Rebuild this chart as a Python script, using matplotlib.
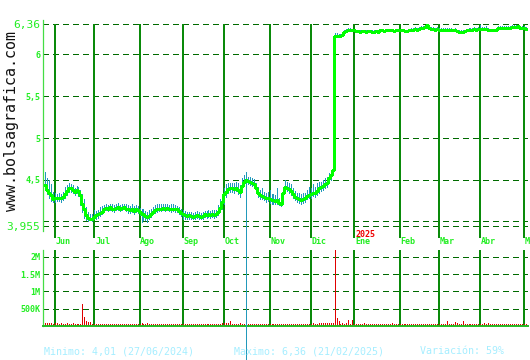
import matplotlib
matplotlib.use("Agg")
import matplotlib.pyplot as plt
import numpy as np
import pandas as pd

plt.rcParams['lines.scale_dashes'] = False

# ---------------- data ----------------
dates = pd.bdate_range('2024-05-27', '2025-05-02')

close = [
    4.44, 4.38, 4.35, 4.32, 4.27, 4.28, 4.28, 4.29, 4.28, 4.30,
    4.33, 4.37, 4.41, 4.40, 4.38, 4.36, 4.38, 4.37, 4.32, 4.22,
    4.15, 4.08, 4.05, 4.04, 4.03, 4.06, 4.08, 4.09, 4.11, 4.12,
    4.16, 4.17, 4.16, 4.18, 4.16, 4.15, 4.17, 4.18, 4.16, 4.17,
    4.18, 4.16, 4.15, 4.14, 4.15, 4.13, 4.15, 4.14, 4.12, 4.10,
    4.09, 4.07, 4.06, 4.07, 4.10, 4.12, 4.14, 4.15, 4.16, 4.16,
    4.17, 4.16, 4.17, 4.16, 4.15, 4.16, 4.15, 4.15, 4.13, 4.11,
    4.09, 4.08, 4.07, 4.08, 4.07, 4.06, 4.07, 4.08, 4.07, 4.06,
    4.07, 4.09, 4.08, 4.09, 4.08, 4.09, 4.08, 4.09, 4.12, 4.17,
    4.24, 4.33, 4.36, 4.39, 4.40, 4.40, 4.39, 4.41, 4.38, 4.36,
    4.43, 4.48, 4.50, 4.49, 4.48, 4.47, 4.45, 4.40, 4.35, 4.32,
    4.31, 4.30, 4.29, 4.29, 4.27, 4.26, 4.26, 4.25, 4.26, 4.23,
    4.22, 4.34, 4.42, 4.41, 4.39, 4.37, 4.33, 4.30, 4.28, 4.27,
    4.26, 4.27, 4.28, 4.31, 4.32, 4.33, 4.35, 4.34, 4.37, 4.40,
    4.42, 4.43, 4.45, 4.47, 4.52, 4.56, 4.62, 6.22, 6.22, 6.22,
    6.21, 6.23, 6.26, 6.27, 6.29, 6.29, 6.29, 6.28, 6.27, 6.27,
    6.26, 6.27, 6.27, 6.26, 6.27, 6.27, 6.26, 6.26, 6.27, 6.26,
    6.28, 6.28, 6.27, 6.28, 6.28, 6.28, 6.28, 6.27, 6.28, 6.28,
    6.28, 6.28, 6.28, 6.27, 6.27, 6.28, 6.29, 6.29, 6.30, 6.29,
    6.30, 6.31, 6.31, 6.32, 6.34, 6.31, 6.30, 6.30, 6.29, 6.30,
    6.29, 6.29, 6.29, 6.29, 6.29, 6.29, 6.29, 6.28, 6.29, 6.27,
    6.26, 6.26, 6.26, 6.27, 6.28, 6.29, 6.29, 6.29, 6.30, 6.29,
    6.30, 6.30, 6.30, 6.30, 6.30, 6.29, 6.28, 6.28, 6.28, 6.29,
    6.31, 6.31, 6.31, 6.31, 6.31, 6.31, 6.31, 6.32, 6.32, 6.32,
    6.33, 6.31, 6.31, 6.31, 6.30,
]

high = [
    4.60, 4.52, 4.50, 4.45, 4.36, 4.34, 4.33, 4.34, 4.33, 4.36,
    4.42, 4.44, 4.46, 4.45, 4.44, 4.41, 4.43, 4.42, 4.38, 4.33,
    4.27, 4.18, 4.12, 4.10, 4.09, 4.14, 4.13, 4.14, 4.18, 4.19,
    4.20, 4.21, 4.20, 4.22, 4.21, 4.20, 4.21, 4.23, 4.20, 4.22,
    4.22, 4.21, 4.20, 4.19, 4.21, 4.19, 4.20, 4.19, 4.17, 4.16,
    4.15, 4.13, 4.12, 4.14, 4.16, 4.18, 4.20, 4.21, 4.21, 4.21,
    4.22, 4.21, 4.22, 4.20, 4.21, 4.21, 4.20, 4.19, 4.18, 4.16,
    4.14, 4.13, 4.12, 4.12, 4.12, 4.11, 4.12, 4.13, 4.12, 4.11,
    4.12, 4.13, 4.13, 4.14, 4.13, 4.14, 4.14, 4.14, 4.20, 4.27,
    4.33, 4.40, 4.45, 4.46, 4.47, 4.47, 4.46, 4.48, 4.46, 4.44,
    4.52, 4.56, 4.60, 4.54, 4.53, 4.52, 4.51, 4.47, 4.42, 4.38,
    4.40, 4.36, 4.35, 4.36, 4.38, 4.33, 4.33, 4.32, 4.40, 4.29,
    4.29, 4.42, 4.50, 4.48, 4.47, 4.45, 4.40, 4.37, 4.35, 4.34,
    4.33, 4.34, 4.35, 4.38, 4.42, 4.40, 4.45, 4.42, 4.46, 4.48,
    4.48, 4.50, 4.52, 4.54, 4.58, 4.62, 4.65, 6.25, 6.25, 6.24,
    6.24, 6.26, 6.29, 6.30, 6.31, 6.31, 6.30, 6.30, 6.29, 6.29,
    6.28, 6.29, 6.29, 6.28, 6.29, 6.29, 6.28, 6.28, 6.29, 6.28,
    6.30, 6.30, 6.29, 6.30, 6.30, 6.30, 6.30, 6.29, 6.30, 6.30,
    6.30, 6.30, 6.29, 6.29, 6.29, 6.30, 6.31, 6.31, 6.32, 6.31,
    6.32, 6.33, 6.33, 6.34, 6.36, 6.34, 6.32, 6.32, 6.31, 6.32,
    6.31, 6.31, 6.31, 6.31, 6.31, 6.31, 6.31, 6.30, 6.31, 6.29,
    6.28, 6.28, 6.28, 6.29, 6.30, 6.31, 6.31, 6.31, 6.32, 6.31,
    6.32, 6.35, 6.32, 6.32, 6.33, 6.31, 6.30, 6.30, 6.30, 6.31,
    6.33, 6.33, 6.33, 6.33, 6.33, 6.33, 6.33, 6.34, 6.34, 6.34,
    6.35, 6.33, 6.33, 6.33, 6.32,
]

low = [
    4.40, 4.33, 4.28, 4.25, 4.24, 4.24, 4.25, 4.25, 4.24, 4.26,
    4.29, 4.32, 4.36, 4.36, 4.34, 4.32, 4.34, 4.31, 4.20, 4.12,
    4.05, 4.02, 4.01, 4.02, 4.01, 4.03, 4.04, 4.05, 4.07, 4.09,
    4.12, 4.14, 4.13, 4.14, 4.13, 4.12, 4.14, 4.14, 4.13, 4.14,
    4.15, 4.13, 4.11, 4.11, 4.12, 4.10, 4.12, 4.11, 4.08, 4.00,
    4.02, 4.02, 4.00, 4.03, 4.06, 4.09, 4.11, 4.12, 4.13, 4.13,
    4.14, 4.13, 4.14, 4.13, 4.12, 4.13, 4.12, 4.12, 4.09, 4.07,
    4.04, 4.03, 4.03, 4.04, 4.03, 4.03, 4.04, 4.05, 4.04, 4.03,
    4.04, 4.06, 4.05, 4.06, 4.05, 4.06, 4.05, 4.06, 4.08, 4.12,
    4.16, 4.22, 4.30, 4.34, 4.36, 4.36, 4.34, 4.37, 4.33, 4.30,
    4.38, 4.44, 0.00, 4.45, 4.44, 4.43, 4.40, 4.34, 4.30, 4.27,
    4.27, 4.26, 4.24, 4.25, 4.23, 4.22, 4.22, 4.21, 4.22, 4.20,
    4.19, 4.24, 4.37, 4.37, 4.34, 4.32, 4.28, 4.26, 4.24, 4.23,
    4.22, 4.23, 4.24, 4.27, 4.28, 4.29, 4.31, 4.30, 4.32, 4.35,
    4.37, 4.38, 4.40, 4.42, 4.47, 4.50, 4.56, 6.20, 6.20, 6.20,
    6.21, 6.23, 6.26, 6.27, 6.29, 6.29, 6.29, 6.28, 6.27, 6.27,
    6.26, 6.27, 6.27, 6.26, 6.27, 6.27, 6.26, 6.26, 6.27, 6.26,
    6.28, 6.28, 6.27, 6.28, 6.28, 6.28, 6.28, 6.27, 6.28, 6.28,
    6.28, 6.28, 6.28, 6.27, 6.27, 6.28, 6.29, 6.29, 6.30, 6.29,
    6.30, 6.31, 6.31, 6.32, 6.34, 6.31, 6.30, 6.30, 6.29, 6.30,
    6.29, 6.29, 6.29, 6.29, 6.29, 6.29, 6.29, 6.28, 6.29, 6.27,
    6.26, 6.26, 6.26, 6.27, 6.28, 6.29, 6.29, 6.29, 6.30, 6.29,
    6.30, 6.30, 6.30, 6.30, 6.30, 6.29, 6.28, 6.28, 6.28, 6.29,
    6.31, 6.31, 6.31, 6.31, 6.31, 6.31, 6.31, 6.32, 6.32, 6.32,
    6.33, 6.31, 6.31, 6.31, 6.30,
]

volume_k = [
    90, 90, 80, 90, 60, 100, 80, 50, 90, 70,
    50, 80, 70, 60, 80, 50, 70, 60, 50, 640,
    260, 150, 120, 120, 60, 50, 70, 70, 70, 50,
    60, 50, 60, 70, 50, 50, 60, 50, 50, 60,
    50, 60, 50, 50, 50, 50, 50, 50, 60, 80,
    70, 60, 80, 60, 50, 60, 60, 50, 70, 70,
    70, 50, 60, 50, 60, 50, 70, 60, 50, 70,
    50, 60, 50, 60, 50, 50, 60, 50, 60, 50,
    50, 60, 50, 70, 50, 60, 50, 70, 60, 70,
    90, 80, 100, 80, 150, 70, 70, 70, 70, 90,
    60, 70, 50, 60, 50, 70, 50, 70, 50, 50,
    60, 50, 50, 70, 50, 60, 60, 50, 50, 60,
    70, 50, 60, 60, 50, 50, 60, 50, 50, 60,
    70, 50, 60, 50, 60, 50, 80, 50, 60, 80,
    80, 80, 80, 80, 100, 100, 100, 2300, 230, 140,
    70, 90, 60, 80, 180, 60, 180, 70, 60, 60,
    70, 60, 80, 60, 50, 60, 70, 60, 50, 70,
    50, 60, 50, 70, 60, 50, 80, 60, 50, 60,
    50, 60, 50, 70, 50, 60, 50, 60, 70, 50,
    50, 70, 50, 60, 50, 50, 50, 70, 50, 50,
    60, 50, 50, 60, 145, 50, 60, 50, 115, 80,
    60, 50, 145, 60, 50, 50, 60, 50, 50, 60,
    50, 60, 50, 80, 60, 85, 60, 50, 60, 50,
    60, 50, 50, 60, 50, 50, 60, 50, 50, 50,
    60, 50, 50, 60, 50,
]

month_labels = ['Jun', 'Jul', 'Ago', 'Sep', 'Oct', 'Nov', 'Dic', 'Ene', 'Feb', 'Mar', 'Abr', 'May']
price_ticks = [6.36, 6.0, 5.5, 5.0, 4.5, 3.955]
price_tick_labels = ['6,36', '6', '5,5', '5', '4,5', '3,955']
price_lines = [6.36, 6.0, 5.5, 5.0, 4.5, 4.01, 3.955]
vol_ticks = [500e3, 1e6, 1.5e6, 2e6]
vol_tick_labels = ['500K', '1M', '1.5M', '2M']
year_label = '2025'
min_text = 'Minimo: 4,01 (27/06/2024)'
max_text = 'Maximo: 6,36 (21/02/2025)'
var_text = 'Variación: 59%'
watermark = 'www.bolsagrafica.com'

# ---------------- layout ----------------
W, H = 530, 360
fig = plt.figure(figsize=(W / 100, H / 100), dpi=100)
fig.patch.set_facecolor('white')


def rect(l, t, r, b):
    return [l / W, 1 - b / H, (r - l) / W, (b - t) / H]


MONO = 'DejaVu Sans Mono'
BRIGHT = '#22ee22'
GRID = '#006a00'
MONTHC = '#0a8a0a'
DASH = (0, (4.3, 2.9))

idx = np.arange(len(close))
month_period = dates.to_period('M')
month_pos = [i for i in range(1, len(dates)) if month_period[i] != month_period[i - 1]]

xlim = (-1.015, 245.2)

# price axes
axp = fig.add_axes(rect(43, 20, 528, 238))
axp.set_zorder(2)
axp.patch.set_visible(False)
axp.set_xlim(*xlim)
axp.set_ylim(3.8095, 6.4048)

for v in price_lines:
    axp.axhline(v, color=GRID, lw=1.0, linestyle=DASH, zorder=1, antialiased=False)
axp.vlines(month_pos, 3.8095, 6.36, color=MONTHC, lw=1.1, zorder=1, antialiased=False)

axp.vlines(idx, low, high, color='#2299bb', lw=0.7, clip_on=False, zorder=2,
           antialiased=False)
axp.plot(idx, close, drawstyle='steps-mid', color='#00ff00', lw=0.75, zorder=3,
         antialiased=False)

for s in ['top', 'right', 'bottom']:
    axp.spines[s].set_visible(False)
axp.spines['left'].set_color('#44dd44')
axp.spines['left'].set_linewidth(0.9)
axp.spines['left'].set_bounds(3.893, 6.4048)
axp.set_xticks([])
axp.set_yticks(price_ticks)
axp.set_yticklabels(price_tick_labels, family=MONO, color=BRIGHT)
axp.tick_params(axis='y', length=0, pad=2)
for lab in axp.get_yticklabels():
    if lab.get_text() in ('6,36', '3,955'):
        lab.set_fontsize(8)
    else:
        lab.set_fontsize(6)
        lab.set_fontweight('bold')

# month labels
for pos, name in zip(month_pos, month_labels):
    axp.text(pos + 0.4, 3.762, name, family=MONO, fontsize=6, fontweight='bold',
             color=BRIGHT, ha='left', va='center', clip_on=False)
ene_pos = month_pos[month_labels.index('Ene')]
axp.text(ene_pos + 0.4, 3.853, year_label, family=MONO, fontsize=6, fontweight='bold',
         color='#ee0000', ha='left', va='center', clip_on=False)

# volume axes
axv = fig.add_axes(rect(43, 250, 528, 326))
axv.set_zorder(1)
axv.patch.set_visible(False)
axv.set_xlim(*xlim)
axv.set_ylim(0, 2.2e6)
for v in vol_ticks:
    axv.axhline(v, color=GRID, lw=1.0, linestyle=DASH, zorder=1, antialiased=False)
for p in month_pos:
    axv.axvline(p, color=MONTHC, lw=1.1, zorder=1, antialiased=False)
axv.vlines(idx, 0, np.array(volume_k) * 1000.0, color='#e00000', lw=0.7, zorder=2,
           antialiased=False)
for s in ['top', 'right']:
    axv.spines[s].set_visible(False)
axv.spines['left'].set_color('#44dd44')
axv.spines['left'].set_linewidth(0.9)
axv.spines['bottom'].set_color('#22bb22')
axv.spines['bottom'].set_linewidth(1.4)
axv.set_xticks([])
axv.set_yticks(vol_ticks)
axv.set_yticklabels(vol_tick_labels, family=MONO, color=BRIGHT, fontsize=6, fontweight='bold')
axv.tick_params(axis='y', length=0, pad=2)

# bottom texts
TXT = '#a6eeff'
fig.text(44 / W, 1 - 351 / H, min_text, family=MONO, fontsize=7.2, color=TXT, ha='left', va='center')
fig.text(234 / W, 1 - 351 / H, max_text, family=MONO, fontsize=7.2, color=TXT, ha='left', va='center')
fig.text(420 / W, 1 - 351 / H, var_text, family=MONO, fontsize=7.2, color=TXT, ha='left', va='center')

# watermark
fig.text(12 / W, 1 - 121 / H, watermark, family=MONO, fontsize=10.8, color='#111111',
         rotation=90, ha='center', va='center')

fig.savefig('out.png', dpi=100, facecolor='white')
